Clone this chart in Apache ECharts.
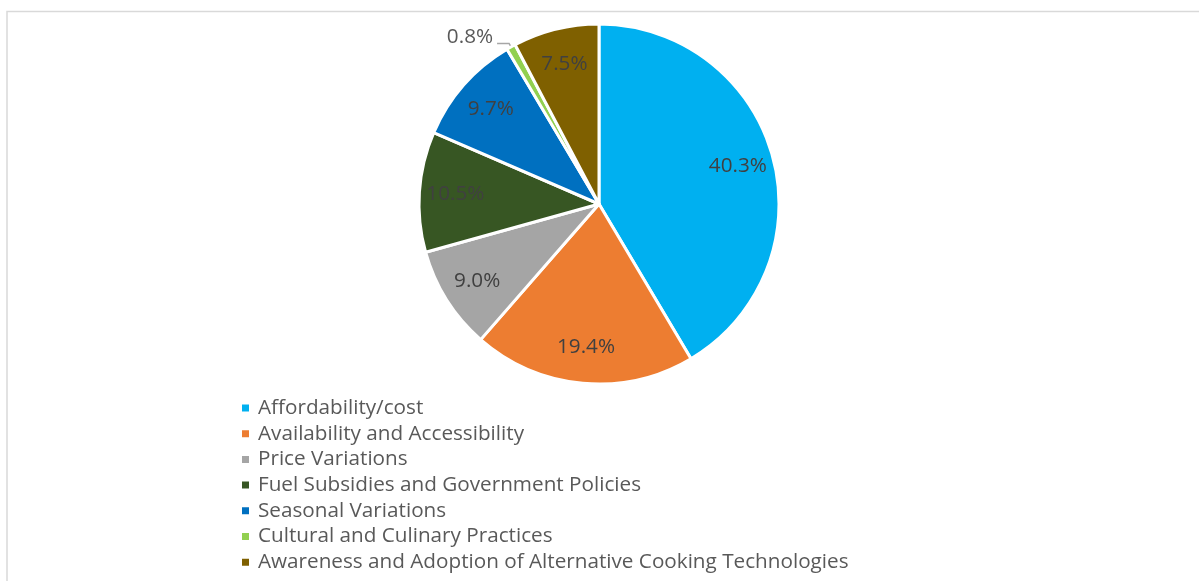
<!DOCTYPE html>
<html>
<head>
<meta charset="utf-8">
<script src="https://cdn.jsdelivr.net/npm/echarts@6/dist/echarts.min.js"></script>
<style>
  html, body { margin: 0; padding: 0; background: #fff; }
  #chart { width: 1199px; height: 581px; }
</style>
</head>
<body>
<div id="chart"></div>
<script>
// Factors influencing cooking fuel choice (share of responses, %)
const categories = [
  'Affordability/cost',
  'Availability and Accessibility',
  'Price Variations',
  'Fuel Subsidies and Government Policies',
  'Seasonal Variations',
  'Cultural and Culinary Practices',
  'Awareness and Adoption of Alternative Cooking Technologies'
];
const values = [40.3, 19.4, 9.0, 10.5, 9.7, 0.8, 7.5];
const colors = ['#00B0F0', '#ED7D31', '#A5A5A5', '#375623', '#0070C0', '#92D050', '#7F6000'];

const FONT = '"Open Sans", "Noto Sans", sans-serif';
const FS = 20.7;
const SMALL = 2; // slices below this get an outside label with a leader line
const center = [599, 204];
const R = 180;

const sliceData = categories.map((name, i) => ({
  name,
  value: values[i],
  itemStyle: { color: colors[i] },
  label: { show: values[i] < SMALL },
  labelLine: { show: values[i] < SMALL }
}));

const labelData = categories.map((name, i) => ({
  name,
  value: values[i],
  label: { show: values[i] >= SMALL }
}));

const chart = echarts.init(document.getElementById('chart'), null, { renderer: 'canvas' });
chart.setOption({
  backgroundColor: '#fff',
  animation: false,
  graphic: [{
    type: 'rect',
    shape: { x: 7, y: 11.5, width: 1240, height: 620 },
    style: { fill: 'none', stroke: '#d9d9d9', lineWidth: 1.5 },
    silent: true
  }],
  legend: {
    orient: 'vertical',
    left: 240,
    top: 397.5,
    padding: 0,
    icon: 'rect',
    itemWidth: 9,
    itemHeight: 9,
    itemGap: 4.7,
    data: categories.map((name, i) => ({ name, itemStyle: { color: colors[i] } })),
    textStyle: {
      fontFamily: FONT,
      fontSize: FS,
      lineHeight: 21,
      color: '#595959',
      padding: [0, 0, 0, 3]
    }
  },
  series: [
    {
      type: 'pie',
      center,
      radius: R,
      startAngle: 90,
      clockwise: true,
      avoidLabelOverlap: false,
      data: sliceData,
      itemStyle: { borderColor: '#fff', borderWidth: 3 },
      label: {
        position: 'outside',
        // empty second row lifts the value text above its leader line
        formatter: p => '{v|' + p.value.toFixed(1) + '%}\n{s|}',
        fontFamily: FONT,
        fontSize: FS,
        color: '#595959',
        rich: {
          v: { fontFamily: FONT, fontSize: FS, color: '#595959', lineHeight: 21 },
          s: { height: 12, lineHeight: 12 }
        },
        distanceToLabelLine: 4
      },
      labelLine: {
        length: 4,
        length2: 12,
        smooth: false,
        lineStyle: { color: '#a6a6a6', width: 1.5 }
      },
      emphasis: { disabled: true }
    },
    {
      // transparent ring carrying the in-slice value labels
      type: 'pie',
      center,
      radius: [102, 180],
      startAngle: 90,
      clockwise: true,
      silent: true,
      legendHoverLink: false,
      data: labelData,
      itemStyle: { color: 'rgba(0,0,0,0)', borderWidth: 0 },
      label: {
        position: 'inside',
        formatter: p => p.value.toFixed(1) + '%',
        fontFamily: FONT,
        fontSize: FS,
        color: '#404040'
      },
      labelLine: { show: false },
      emphasis: { disabled: true }
    }
  ]
});
</script>
</body>
</html>
